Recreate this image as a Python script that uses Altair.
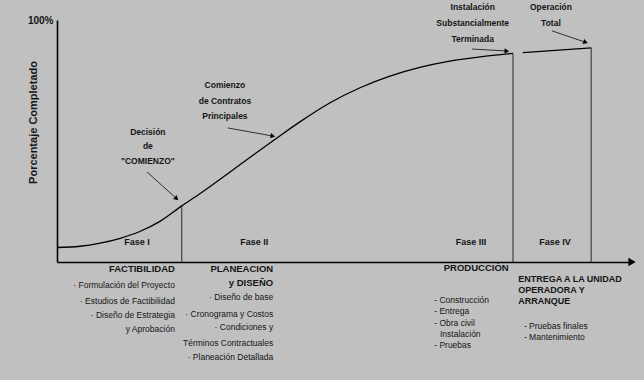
import altair as alt
import pandas as pd

# ---- data ----
curve1_t = [0, 4, 7.5, 11, 14.4, 17.9, 21.7, 24.9, 30.1, 33.6, 38.8, 42.3, 47.5, 52.7, 57.9, 63.1, 68.3, 73.6, 79.3]
curve1_v = [6.0, 6.5, 7.8, 9.8, 12.6, 16.8, 23.2, 28.3, 37.2, 43.3, 52.2, 58.0, 65.8, 72.0, 76.8, 80.4, 83.0, 84.8, 86.2]
curve2_t = [81.0, 92.9]
curve2_v = [86.5, 88.5]

phase_end_t = [21.7, 79.3, 92.9]
phase_end_v = [23.2, 86.2, 88.5]

phase_names = ["Fase I", "Fase II", "Fase III", "Fase IV"]
phase_name_t = [13.9, 34.3, 72.0, 86.6]
phase_name_v = [8.3, 8.3, 8.3, 8.3]

annot_text = ["Decisión", "de", "\"COMIENZO\"",
              "Comienzo", "de Contratos", "Principales",
              "Instalación", "Substancialmente", "Terminada",
              "Operación", "Total"]
annot_t = [15.8, 15.8, 15.8, 29.2, 29.2, 29.2, 72.3, 72.3, 72.3, 85.9, 85.9]
annot_v = [53.7, 47.9, 41.7, 73.1, 66.5, 60.3, 105.4, 98.8, 92.1, 105.4, 98.8]

arrow_id = ["a", "a", "b", "b", "c", "c", "d", "d"]
arrow_t = [15.65, 20.7, 29.7, 37.4, 72.2, 78.1, 86.1, 91.8]
arrow_v = [37.2, 26.4, 55.4, 52.1, 88.0, 87.2, 95.5, 90.9]
head_t = [20.7, 37.4, 78.1, 91.8]
head_v = [26.4, 52.1, 87.2, 90.9]
head_angle = [132, 101, 93, 109]

head_right_text = ["FACTIBILIDAD", "PLANEACION", "y DISEÑO"]
head_right_t = [20.5, 37.6, 37.6]
head_right_v = [-2.9, -2.9, -8.7]

head_left_text = ["ENTREGA A LA UNIDAD", "OPERADORA Y", "ARRANQUE"]
head_left_t = [80.2, 80.2, 80.2]
head_left_v = [-7.0, -11.6, -16.1]

head_center_text = ["PRODUCCIÓN"]
head_center_t = [72.9]
head_center_v = [-2.5]

item_right_text = ["· Formulación del Proyecto", "· Estudios de Factibilidad",
                   "· Diseño de Estrategia", "y Aprobación",
                   "· Diseño de base", "· Cronograma y Costos", "· Condiciones y",
                   "Términos Contractuales", "· Planeación Detallada"]
item_right_t = [20.5, 20.5, 20.5, 20.5, 37.6, 37.6, 37.6, 37.6, 37.6]
item_right_v = [-9.5, -16.1, -21.9, -27.7, -14.5, -21.5, -26.9, -33.5, -39.3]

item_left_text = ["- Construcción", "- Entrega", "- Obra civil", "Instalación", "- Pruebas",
                  "- Pruebas finales", "- Mantenimiento"]
item_left_t = [65.6, 65.6, 65.6, 66.6, 65.6, 81.2, 81.2]
item_left_v = [-15.7, -20.2, -25.2, -29.8, -34.3, -26.4, -31.0]

FONT = "Liberation Sans, Arial, sans-serif"
TXT = "#151515"

xs = alt.Scale(domain=[0, 100], nice=False, zero=False)
ys = alt.Scale(domain=[0, 100], nice=False, zero=False)

curve_df = pd.DataFrame({
    "t": curve1_t + curve2_t,
    "v": curve1_v + curve2_v,
    "seg": ["s1"] * len(curve1_t) + ["s2"] * len(curve2_t),
})

curve = alt.Chart(curve_df).mark_line(color="black", strokeWidth=1.3, interpolate="monotone").encode(
    x=alt.X("t:Q", scale=xs, axis=alt.Axis(domain=True, domainColor="black", domainWidth=1.6,
                                              ticks=False, labels=False, grid=False, title="")),
    y=alt.Y("v:Q", scale=ys, axis=alt.Axis(domain=True, domainColor="black", domainWidth=1.6,
                                              ticks=False, grid=False, values=[100],
                                              labelExpr="datum.value + '%'", labelFont=FONT,
                                              labelFontSize=10, labelFontWeight="bold",
                                              labelColor=TXT, labelPadding=4,
                                              title="Porcentaje Completado", titleFont=FONT,
                                              titleFontSize=11, titleFontWeight="bold",
                                              titleColor=TXT, titleX=-24, titleY=102,
                                              titleAngle=270, titleAlign="center",
                                              titleBaseline="middle")),
    detail="seg:N",
)

rules_df = pd.DataFrame({"t": phase_end_t, "v": phase_end_v, "z": [0, 0, 0]})
rules = alt.Chart(rules_df).mark_rule(color="#2a2a2a", strokeWidth=1).encode(
    x=alt.X("t:Q", scale=xs), y=alt.Y("z:Q", scale=ys), y2="v:Q")

axis_arrow = alt.Chart(pd.DataFrame({"t": [100], "v": [0]})).mark_point(
    shape="triangle-right", filled=True, color="black", size=70, opacity=1).encode(
    x=alt.X("t:Q", scale=xs), y=alt.Y("v:Q", scale=ys))

arrows = alt.Chart(pd.DataFrame({"t": arrow_t, "v": arrow_v, "id": arrow_id})).mark_line(
    color="#303030", strokeWidth=1).encode(
    x=alt.X("t:Q", scale=xs), y=alt.Y("v:Q", scale=ys), detail="id:N")

heads = alt.Chart(pd.DataFrame({"t": head_t, "v": head_v, "a": head_angle})).mark_point(
    shape="triangle", filled=True, color="black", size=28, opacity=1).encode(
    x=alt.X("t:Q", scale=xs), y=alt.Y("v:Q", scale=ys),
    angle=alt.Angle("a:Q", scale=None))


def text_layer(texts, ts, vs, align, weight, size):
    df = pd.DataFrame({"t": ts, "v": vs, "label": texts})
    return alt.Chart(df).mark_text(align=align, baseline="middle", font=FONT, fontSize=size,
                                   fontWeight=weight, color=TXT).encode(
        x=alt.X("t:Q", scale=xs), y=alt.Y("v:Q", scale=ys), text="label:N")


phases = text_layer(phase_names, phase_name_t, phase_name_v, "center", "bold", 9)
annots = text_layer(annot_text, annot_t, annot_v, "center", "bold", 8.5)
hr = text_layer(head_right_text, head_right_t, head_right_v, "right", "bold", 9.5)
hl = text_layer(head_left_text, head_left_t, head_left_v, "left", "bold", 9)
hc = text_layer(head_center_text, head_center_t, head_center_v, "center", "bold", 9.5)
ir = text_layer(item_right_text, item_right_t, item_right_v, "right", "normal", 8.5)
il = text_layer(item_left_text, item_left_t, item_left_v, "left", "normal", 8.5)

bottom_strip = alt.Chart(pd.DataFrame({"k": [0]})).mark_rect(color="white").encode(
    x=alt.value(-57), x2=alt.value(600), y=alt.value(360), y2=alt.value(375))

chart = alt.layer(
    bottom_strip, rules, curve, axis_arrow, arrows, heads, phases, annots, hr, hl, hc, ir, il
).properties(
    width=575, height=242,
    padding={"left": 57, "top": 20, "right": 12, "bottom": 128},
    autosize=alt.AutoSizeParams(type="none"),
    background="#c0c0c0",
).configure_view(stroke=None)

chart.save("out.html", embed_options={"renderer": "svg", "actions": False})
